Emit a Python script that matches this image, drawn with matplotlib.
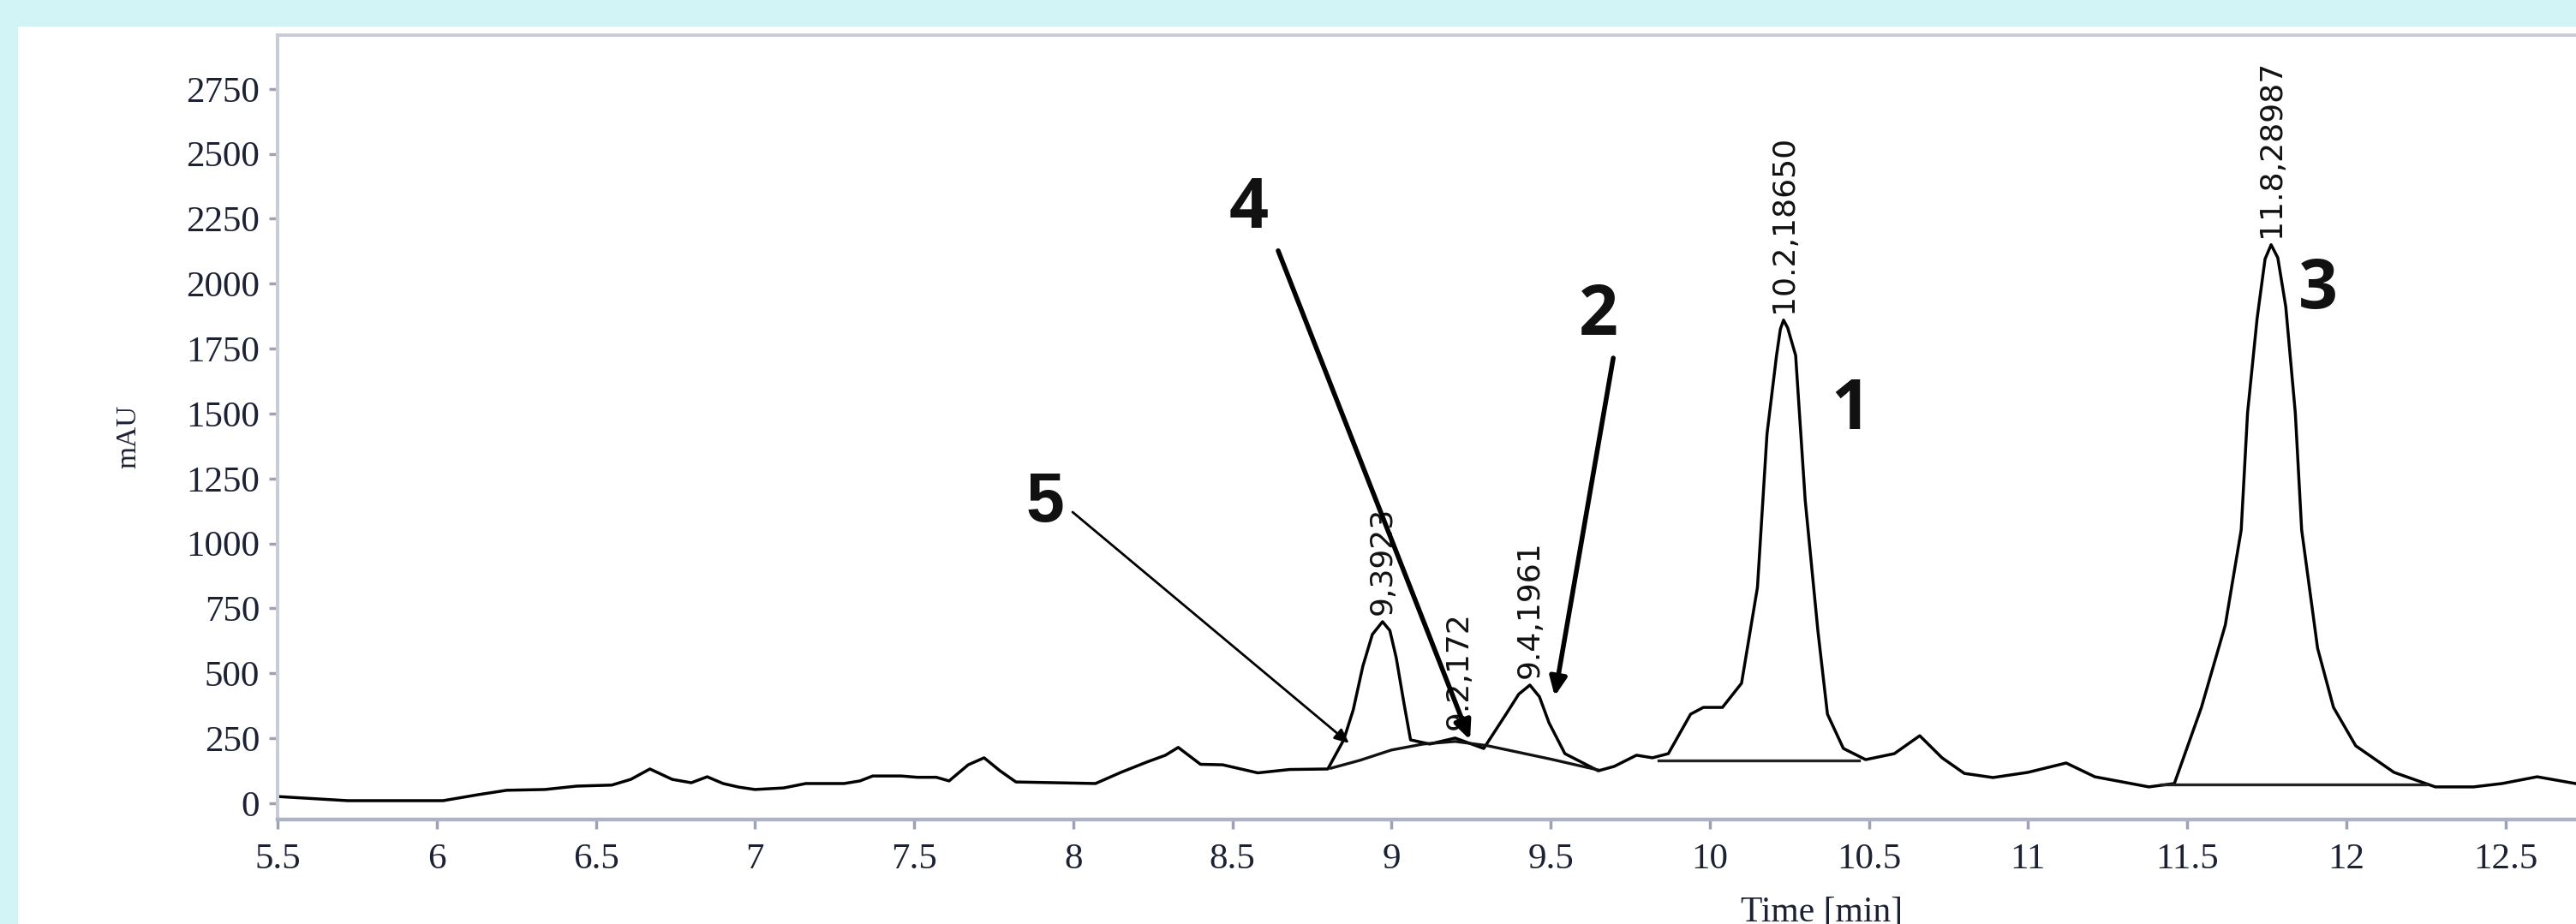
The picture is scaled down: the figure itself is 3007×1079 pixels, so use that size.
import matplotlib.pyplot as plt
from matplotlib.patches import Rectangle

# chromatogram trace (time in min, absorbance in mAU)
time_min = [5.5, 5.72, 6.02, 6.13, 6.22, 6.34, 6.44, 6.55, 6.61, 6.67, 6.74, 6.80,
            6.85, 6.90, 6.95, 7.00, 7.09, 7.16, 7.28, 7.33, 7.37, 7.46, 7.51, 7.57,
            7.61, 7.67, 7.72, 7.77, 7.82, 8.07, 8.15, 8.23, 8.29, 8.33, 8.40, 8.47,
            8.58, 8.68, 8.80, 8.85, 8.88, 8.91, 8.94, 8.972, 8.995, 9.015, 9.04, 9.06,
            9.12, 9.20, 9.29, 9.36, 9.40, 9.435, 9.465, 9.495, 9.545, 9.65, 9.70,
            9.77, 9.82, 9.87, 9.94, 9.98, 10.04, 10.10, 10.15, 10.18, 10.21, 10.222,
            10.232, 10.245, 10.27, 10.30, 10.34, 10.37, 10.42, 10.49, 10.58, 10.66,
            10.73, 10.80, 10.89, 11.00, 11.12, 11.21, 11.38, 11.46, 11.545, 11.62,
            11.67, 11.69, 11.72, 11.745, 11.764, 11.785, 11.81, 11.84, 11.86, 11.91,
            11.96, 12.03, 12.15, 12.28, 12.40, 12.49, 12.60, 12.72]
mau = [26, 10, 10, 33, 50, 53, 66, 70, 92, 132, 92, 79,
       102, 76, 62, 53, 59, 76, 76, 86, 105, 105, 100, 100,
       86, 148, 175, 125, 82, 76, 119, 158, 185, 215, 150, 148,
       117, 130, 132, 244, 360, 527, 650, 699, 665, 560, 380, 244,
       228, 251, 211, 343, 420, 455, 410, 310, 191, 125, 142,
       185, 175, 191, 343, 369, 369, 462, 831, 1421, 1724, 1825,
       1860, 1830, 1724, 1167, 663, 343, 211, 168, 191, 260,
       175, 115, 99, 119, 155, 102, 63, 76, 369, 686,
       1052, 1503, 1866, 2095, 2150, 2100, 1912, 1503, 1052, 597,
       369, 221, 119, 63, 63, 76, 102, 76]

# integration baselines
base1_t = [9.84, 10.47]
base1_v = [165, 165]
base3_t = [11.42, 12.25]
base3_v = [72, 72]
dome_t = [8.81, 8.90, 9.00, 9.10, 9.20, 9.30, 9.40, 9.50, 9.60, 9.65]
dome_v = [135, 165, 205, 228, 238, 222, 196, 170, 142, 128]

# peak labels
peak_t = [8.972, 9.21, 9.435, 10.232, 11.764]
peak_v = [699, 255, 455, 1860, 2150]
peak_labels = ['9,3923', '9.2,172', '9.4,1961', '10.2,18650', '11.8,28987']

# compound numbers and arrows
num_labels = ['1', '2', '3', '4', '5']
num_t = [10.442, 9.651, 11.912, 8.552, 7.912]
num_v = [1510, 1873, 1975, 2285, 1154]
arrow_from_t = [8.644, 9.697, 7.998]
arrow_from_v = [2127, 1714, 1121]
arrow_to_t = [9.247, 9.513, 8.867]
arrow_to_v = [244, 412, 231]
arrow_lw = [4.0, 4.0, 2.0]
arrow_head = [1.3, 1.3, 1.0]

xticks = [5.5, 6, 6.5, 7, 7.5, 8, 8.5, 9, 9.5, 10, 10.5, 11, 11.5, 12, 12.5]
xtick_labels = ['5.5', '6', '6.5', '7', '7.5', '8', '8.5', '9', '9.5', '10',
                '10.5', '11', '11.5', '12', '12.5']
yticks = list(range(0, 2751, 250))

W, H = 3007, 1079
fig = plt.figure(figsize=(W / 100, H / 100), dpi=100)
fig.patch.set_facecolor('#D3F4F6')
fig.add_artist(Rectangle((21 / W, 0), 1, (H - 31) / H, transform=fig.transFigure,
                         facecolor='white', edgecolor='none', zorder=0))

ax = fig.add_axes([324 / W, (H - 957) / H, 1 - 324 / W, (957 - 41) / H])
ax.set_xlim(5.5, 12.722)
ax.set_ylim(-62.6, 2957)

ax.plot(time_min, mau, color='black', lw=2.5, solid_joinstyle='round')
ax.plot(base1_t, base1_v, color='#222222', lw=2.4)
ax.plot(base3_t, base3_v, color='#222222', lw=2.4)
ax.plot(dome_t, dome_v, color='#111111', lw=2.4)

for t, v, s in zip(peak_t, peak_v, peak_labels):
    ax.annotate(s, (t, v), xytext=(0, 6), textcoords='offset points',
                rotation=90, ha='center', va='bottom', fontsize=26,
                family='DejaVu Sans', color='#111111')

for i in range(len(arrow_from_t)):
    ax.annotate('', xy=(arrow_to_t[i], arrow_to_v[i]),
                xytext=(arrow_from_t[i], arrow_from_v[i]),
                arrowprops=dict(arrowstyle='-|>,head_length=%.1f,head_width=%.2f'
                                % (arrow_head[i], arrow_head[i] * 0.45),
                                color='black', lw=arrow_lw[i],
                                shrinkA=0, shrinkB=0))

for s, t, v in zip(num_labels, num_t, num_v):
    fam = 'Liberation Sans' if s == '5' else 'Open Sans'
    ax.text(t, v, s, fontsize=58, fontweight='bold', family=fam,
            ha='center', va='center', color='#111111')

ax.set_xticks(xticks)
ax.set_xticklabels(xtick_labels)
ax.set_yticks(yticks)
for lab in ax.get_xticklabels() + ax.get_yticklabels():
    lab.set_family('Liberation Serif')
    lab.set_fontsize(31)
    lab.set_color('#1C2233')
ax.tick_params(axis='y', length=7, width=2.5, color='#9DA3B4', pad=8)
ax.tick_params(axis='x', length=8, width=2.5, color='#9DA3B4', pad=12)

ax.spines['right'].set_visible(False)
ax.spines['left'].set_color('#C9CBD6')
ax.spines['left'].set_linewidth(2.9)
ax.spines['top'].set_color('#C9CBD6')
ax.spines['top'].set_linewidth(2.9)
ax.spines['bottom'].set_color('#AEB3C4')
ax.spines['bottom'].set_linewidth(3.2)

fig.text(150 / W, (H - 510) / H, 'mAU', rotation=90, ha='center', va='center',
         family='Liberation Serif', fontsize=24, color='#1C2233')
fig.text(2127 / W, (H - 1046) / H, 'Time [min]', ha='center', va='top',
         family='Liberation Serif', fontsize=30, color='#1C2233')

fig.savefig('out.png', dpi=100, facecolor=fig.get_facecolor())
